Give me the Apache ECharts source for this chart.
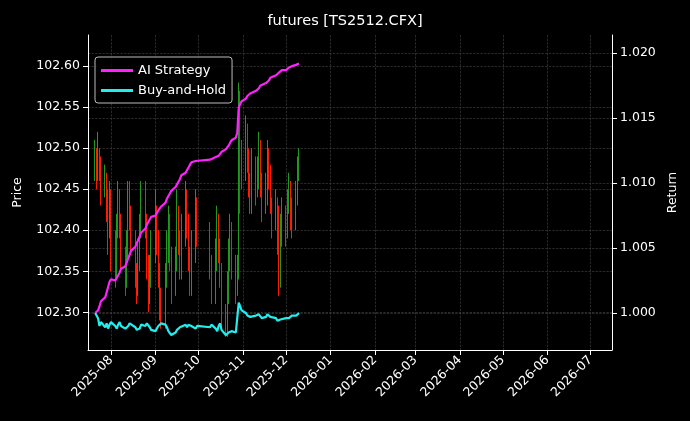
<!DOCTYPE html>
<html>
<head>
<meta charset="utf-8">
<script src="https://cdn.jsdelivr.net/npm/echarts@6/dist/echarts.min.js"></script>
<style>html,body{margin:0;background:#000}#main{width:690px;height:421px}</style>
</head>
<body>
<div id="main"></div>
<script>
// daily bars, trading days 2025-07-21 .. 2025-12-10 (Oct 1-8 holiday)
const closes = [
  102.49,102.47,102.50,102.48,102.45,102.46,102.43,102.40,102.44,
  102.38,102.36,102.40,102.43,102.41,102.37,102.34,102.38,102.44,102.42,102.39,102.35,102.33,102.37,102.40,102.45,102.41,102.36,102.32,102.35,102.38,
  102.42,102.39,102.35,102.31,102.29,102.34,102.38,102.41,102.37,102.33,102.36,102.42,102.39,102.36,102.40,102.44,102.41,102.37,102.34,102.38,102.43,102.40,
  102.36,102.33,102.37,102.41,102.38,102.35,102.30,102.28,102.33,102.37,102.40,102.36,102.33,102.35,102.56,102.50,102.47,
  102.52,102.49,102.46,102.44,102.48,102.45,102.47,102.50,102.46,102.43,102.45,102.49,102.47,102.44,102.41,102.43,102.39,102.34,102.40,102.42,
  102.40,102.43,102.45,102.42,102.41,102.44,102.47,102.49
];
const highs = [
  102.51,102.50,102.52,102.50,102.49,102.48,102.47,102.45,102.46,
  102.45,102.40,102.42,102.46,102.45,102.42,102.38,102.40,102.46,102.46,102.43,102.40,102.36,102.39,102.42,102.46,102.46,102.42,102.37,102.37,102.40,
  102.45,102.43,102.40,102.36,102.33,102.36,102.40,102.43,102.42,102.38,102.38,102.45,102.43,102.40,102.42,102.46,102.45,102.42,102.38,102.40,102.45,102.44,
  102.41,102.37,102.39,102.43,102.42,102.39,102.36,102.31,102.35,102.39,102.42,102.41,102.37,102.37,102.58,102.57,102.51,
  102.54,102.53,102.50,102.47,102.50,102.49,102.49,102.52,102.51,102.47,102.47,102.51,102.50,102.48,102.44,102.45,102.44,102.43,102.42,102.44,
  102.43,102.45,102.47,102.46,102.44,102.46,102.49,102.50
];
const lows = [
  102.46,102.45,102.46,102.46,102.43,102.44,102.41,102.37,102.39,
  102.35,102.33,102.34,102.39,102.39,102.35,102.32,102.33,102.36,102.40,102.37,102.33,102.31,102.32,102.35,102.39,102.39,102.34,102.30,102.31,102.33,
  102.36,102.37,102.33,102.29,102.28,102.28,102.33,102.36,102.35,102.31,102.32,102.35,102.37,102.34,102.34,102.38,102.39,102.35,102.32,102.32,102.36,102.38,
  102.34,102.31,102.31,102.35,102.36,102.33,102.28,102.27,102.27,102.31,102.35,102.34,102.31,102.32,102.34,102.42,102.45,
  102.46,102.47,102.44,102.42,102.42,102.43,102.44,102.45,102.44,102.41,102.42,102.43,102.45,102.42,102.39,102.40,102.37,102.32,102.33,102.38,
  102.38,102.39,102.42,102.40,102.39,102.40,102.43,102.46
];
const firstOpen = 102.47;
const aiStrategy = [
  1.0000,1.0000,1.0002,1.0005,1.0009,1.0012,1.0016,1.0020,1.0024,
  1.0026,1.0025,1.0027,1.0029,1.0031,1.0034,1.0036,1.0039,1.0042,1.0045,1.0048,1.0051,1.0054,1.0056,1.0059,1.0062,1.0065,1.0068,1.0070,1.0072,1.0074,
  1.0075,1.0077,1.0079,1.0080,1.0082,1.0085,1.0088,1.0090,1.0092,1.0094,1.0097,1.0099,1.0101,1.0103,1.0106,1.0108,1.0110,1.0112,1.0114,1.0116,1.0117,1.0118,
  1.0118,1.0118,1.0120,1.0120,1.0121,1.0122,1.0124,1.0126,1.0127,1.0129,1.0131,1.0133,1.0135,1.0139,1.0158,1.0161,1.0163,
  1.0165,1.0167,1.0168,1.0169,1.0170,1.0171,1.0172,1.0173,1.0175,1.0176,1.0177,1.0178,1.0179,1.0181,1.0182,1.0183,1.0184,1.0185,1.0186,1.0187,
  1.0187,1.0188,1.0189,1.0190,1.0190,1.0191,1.0192,1.0192
];
const buyHold = [
  1.0000,0.9999,0.9996,0.9990,0.9993,0.9989,0.9992,0.9988,0.9991,
  0.9993,0.9990,0.9988,0.9991,0.9993,0.9990,0.9988,0.9987,0.9990,0.9992,0.9991,0.9989,0.9987,0.9986,0.9988,0.9991,0.9990,0.9992,0.9993,0.9989,0.9987,
  0.9986,0.9988,0.9990,0.9989,0.9992,0.9991,0.9989,0.9986,0.9985,0.9983,0.9985,0.9987,0.9986,0.9989,0.9990,0.9991,0.9989,0.9991,0.9992,0.9990,0.9988,0.9990,
  0.9989,0.9991,0.9988,0.9986,0.9990,0.9992,0.9987,0.9983,0.9984,0.9985,0.9985,0.9986,0.9985,0.9984,1.0008,1.0005,1.0002,
  1.0000,0.9998,0.9998,0.9997,0.9998,0.9998,0.9997,0.9999,0.9998,0.9996,0.9997,0.9999,0.9998,0.9997,0.9998,0.9996,0.9994,0.9994,0.9995,0.9996,
  0.9996,0.9995,0.9996,0.9997,0.9998,0.9998,0.9999,1.0000
];
const priceTicks = [102.30, 102.35, 102.40, 102.45, 102.50, 102.55, 102.60];
const returnTicks = [1.000, 1.005, 1.010, 1.015, 1.020];
const monthTicks = ['2025-08','2025-09','2025-10','2025-11','2025-12','2026-01','2026-02','2026-03','2026-04','2026-05','2026-06','2026-07'];

// trading calendar
const dates = [];
let d = new Date(Date.UTC(2025, 6, 21));
while (dates.length < closes.length) {
  const wd = d.getUTCDay();
  const isHoliday = d.getUTCMonth() === 9 && d.getUTCDate() <= 8;
  if (wd !== 0 && wd !== 6 && !isHoliday) dates.push(d.getTime());
  d = new Date(d.getTime() + 86400000);
}
const candles = closes.map((c, i) => [dates[i], i ? closes[i - 1] : firstOpen, c, lows[i], highs[i]]);
const monthVals = monthTicks.map(m => Date.parse(m + '-01T00:00:00Z'));

var myChart = echarts.init(document.getElementById('main'), null, { renderer: 'canvas' });
const grid = { lineStyle: { color: '#444', type: 'dashed', width: 0.6 } };
const lbl = { color: '#fff', fontSize: 12.5, fontFamily: 'DejaVu Sans' };
var option = {
  backgroundColor: '#000',
  animation: false,
  title: { text: 'futures [TS2512.CFX]', left: 'center', top: 9,
    textStyle: { color: '#fff', fontSize: 14.5, fontWeight: 'normal', fontFamily: 'DejaVu Sans' } },
  legend: {
    left: 95, top: 57, orient: 'vertical', itemGap: 7, itemWidth: 32, itemHeight: 3,
    padding: [7, 6, 6, 6], borderColor: '#bbb', borderWidth: 1, borderRadius: 3,
    backgroundColor: 'rgba(0,0,0,0.8)',
    textStyle: { color: '#fff', fontSize: 13, fontFamily: 'DejaVu Sans' },
    data: [{ name: 'AI Strategy', icon: 'rect' }, { name: 'Buy-and-Hold', icon: 'rect' }]
  },
  grid: { left: 88, right: 78, top: 35, bottom: 71 },
  xAxis: {
    type: 'value', min: Date.UTC(2025, 6, 16), max: Date.UTC(2026, 6, 16),
    axisLine: { lineStyle: { color: '#fff' } },
    axisTick: { customValues: monthVals, lineStyle: { color: '#fff' } },
    axisLabel: Object.assign({ customValues: monthVals, rotate: 45,
      formatter: v => { const t = new Date(v); return t.getUTCFullYear() + '-' + String(t.getUTCMonth() + 1).padStart(2, '0'); } }, lbl),
    splitLine: Object.assign({ show: true }, grid)
  },
  yAxis: [
    { type: 'value', name: 'Price', nameLocation: 'middle', nameGap: 64, nameTextStyle: lbl,
      min: 102.254, max: 102.638,
      axisLine: { show: true, lineStyle: { color: '#fff' } },
      axisTick: { show: true, customValues: priceTicks },
      axisLabel: Object.assign({ customValues: priceTicks, formatter: v => v.toFixed(2) }, lbl),
      splitLine: Object.assign({ show: true }, grid) },
    { type: 'value', name: 'Return', nameLocation: 'middle', nameGap: 52, nameTextStyle: lbl,
      min: 0.99715, max: 1.0214,
      axisLine: { show: true, lineStyle: { color: '#fff' } },
      axisTick: { show: true, customValues: returnTicks },
      axisLabel: Object.assign({ customValues: returnTicks, formatter: v => v.toFixed(3) }, lbl),
      splitLine: Object.assign({ show: true }, grid) }
  ],
  series: [
    { type: 'candlestick', name: 'Price', yAxisIndex: 0, barWidth: 1,
      itemStyle: { color: '#1f9a1f', color0: '#ff1a00', borderColor: '#1f9a1f', borderColor0: '#ff1a00', borderWidth: 1 },
      data: candles },
    { type: 'line', name: 'AI Strategy', yAxisIndex: 1, showSymbol: false,
      lineStyle: { color: '#ff22ff', width: 2.2 }, itemStyle: { color: '#ff22ff' },
      data: aiStrategy.map((v, i) => [dates[i], v]) },
    { type: 'line', name: 'Buy-and-Hold', yAxisIndex: 1, showSymbol: false,
      lineStyle: { color: '#22eeee', width: 2.2 }, itemStyle: { color: '#22eeee' },
      data: buyHold.map((v, i) => [dates[i], v]) }
  ]
};
myChart.setOption(option);
window.addEventListener('resize', myChart.resize);
</script>
</body>
</html>
